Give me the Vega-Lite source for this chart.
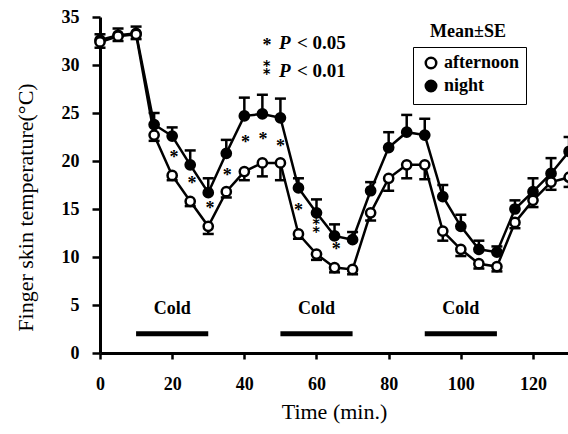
{
  "$schema": "https://vega.github.io/schema/vega-lite/v6.json",
  "width": 468,
  "height": 336,
  "autosize": {"type": "none"},
  "padding": {"left": 100, "top": 17, "right": 0, "bottom": 81},
  "background": "white",
  "config": {
    "view": {"stroke": null},
    "font": "Liberation Serif",
    "axis": {
      "grid": false,
      "domainColor": "black",
      "domainWidth": 3,
      "tickColor": "black",
      "tickWidth": 2.5,
      "labelFont": "Liberation Serif",
      "labelFontWeight": "bold",
      "labelFontSize": 18,
      "labelColor": "black",
      "titleFont": "Liberation Serif",
      "titleFontWeight": "normal",
      "titleFontSize": 22,
      "titleColor": "black"
    },
    "legend": {
      "labelFont": "Liberation Serif",
      "labelFontWeight": "bold",
      "labelFontSize": 18,
      "labelColor": "black"
    }
  },
  "datasets": {
    "series": [
      {"t": 0, "g": "night", "v": 32.6, "e": 33.2},
      {"t": 5, "g": "night", "v": 33.1, "e": 33.8},
      {"t": 10, "g": "night", "v": 33.3, "e": 34.0},
      {"t": 15, "g": "night", "v": 23.8, "e": 25.0},
      {"t": 20, "g": "night", "v": 22.6, "e": 23.5},
      {"t": 25, "g": "night", "v": 19.6, "e": 21.1},
      {"t": 30, "g": "night", "v": 16.7, "e": 18.2},
      {"t": 35, "g": "night", "v": 20.8, "e": 22.2},
      {"t": 40, "g": "night", "v": 24.7, "e": 26.6},
      {"t": 45, "g": "night", "v": 24.9, "e": 26.9},
      {"t": 50, "g": "night", "v": 24.5, "e": 26.5},
      {"t": 55, "g": "night", "v": 17.2, "e": 18.2},
      {"t": 60, "g": "night", "v": 14.6, "e": 16.0},
      {"t": 65, "g": "night", "v": 12.2, "e": 13.4},
      {"t": 70, "g": "night", "v": 11.8, "e": 12.6},
      {"t": 75, "g": "night", "v": 16.9, "e": 17.8},
      {"t": 80, "g": "night", "v": 21.4, "e": 23.0},
      {"t": 85, "g": "night", "v": 23.0, "e": 24.8},
      {"t": 90, "g": "night", "v": 22.7, "e": 24.4},
      {"t": 95, "g": "night", "v": 16.3, "e": 17.5},
      {"t": 100, "g": "night", "v": 13.2, "e": 14.4},
      {"t": 105, "g": "night", "v": 10.8, "e": 11.7},
      {"t": 110, "g": "night", "v": 10.5, "e": 11.1},
      {"t": 115, "g": "night", "v": 15.0, "e": 15.9},
      {"t": 120, "g": "night", "v": 16.8, "e": 18.2},
      {"t": 125, "g": "night", "v": 18.7, "e": 20.3},
      {"t": 130, "g": "night", "v": 21.0, "e": 22.5},
      {"t": 0, "g": "afternoon", "v": 32.4, "e": 31.8},
      {"t": 5, "g": "afternoon", "v": 33.0, "e": 32.5},
      {"t": 10, "g": "afternoon", "v": 33.2, "e": 32.7},
      {"t": 15, "g": "afternoon", "v": 22.7, "e": 22.1},
      {"t": 20, "g": "afternoon", "v": 18.5, "e": 18.0},
      {"t": 25, "g": "afternoon", "v": 15.8, "e": 15.3},
      {"t": 30, "g": "afternoon", "v": 13.2, "e": 12.4},
      {"t": 35, "g": "afternoon", "v": 16.8, "e": 16.2},
      {"t": 40, "g": "afternoon", "v": 18.9, "e": 18.0},
      {"t": 45, "g": "afternoon", "v": 19.8, "e": 18.4},
      {"t": 50, "g": "afternoon", "v": 19.8, "e": 18.0},
      {"t": 55, "g": "afternoon", "v": 12.4, "e": 11.9},
      {"t": 60, "g": "afternoon", "v": 10.3, "e": 9.7},
      {"t": 65, "g": "afternoon", "v": 8.9, "e": 8.4},
      {"t": 70, "g": "afternoon", "v": 8.7, "e": 8.2},
      {"t": 75, "g": "afternoon", "v": 14.6, "e": 13.8},
      {"t": 80, "g": "afternoon", "v": 18.2, "e": 16.9},
      {"t": 85, "g": "afternoon", "v": 19.6, "e": 18.2},
      {"t": 90, "g": "afternoon", "v": 19.6, "e": 18.1},
      {"t": 95, "g": "afternoon", "v": 12.7, "e": 11.7},
      {"t": 100, "g": "afternoon", "v": 10.8, "e": 10.1},
      {"t": 105, "g": "afternoon", "v": 9.3, "e": 8.8},
      {"t": 110, "g": "afternoon", "v": 9.0, "e": 8.5},
      {"t": 115, "g": "afternoon", "v": 13.6, "e": 13.0},
      {"t": 120, "g": "afternoon", "v": 15.9, "e": 15.2},
      {"t": 125, "g": "afternoon", "v": 17.8, "e": 17.0},
      {"t": 130, "g": "afternoon", "v": 18.3, "e": 17.3}
    ],
    "cold": [
      {"start": 10, "end": 30, "mid": 20, "bar": 2.0, "lab": 4.6, "label": "Cold"},
      {"start": 50, "end": 70, "mid": 60, "bar": 2.0, "lab": 4.6, "label": "Cold"},
      {"start": 90, "end": 110, "mid": 100, "bar": 2.0, "lab": 4.6, "label": "Cold"}
    ],
    "stars": [
      {"t": 20.5, "v": 20.7},
      {"t": 25.5, "v": 18.0},
      {"t": 30.5, "v": 15.4},
      {"t": 35.3, "v": 18.9},
      {"t": 40.3, "v": 22.3},
      {"t": 45.2, "v": 22.6},
      {"t": 50.0, "v": 21.9},
      {"t": 55.0, "v": 15.2},
      {"t": 65.5, "v": 11.1},
      {"t": 46.3, "v": 32.4}
    ],
    "dstars": [
      {"t": 60.0, "v": 13.0},
      {"t": 46.3, "v": 29.5}
    ],
    "pnotes": [
      {"t": 49.6, "v": 32.3, "p": "P", "rest": "< 0.05"},
      {"t": 49.6, "v": 29.4, "p": "P", "rest": "< 0.01"}
    ],
    "title2": [
      {"t": 102, "v": 33.4, "label": "Mean±SE"}
    ]
  },
  "layer": [
    {
      "data": {"name": "cold"},
      "mark": {"type": "rule", "strokeWidth": 5, "color": "black"},
      "encoding": {
        "x": {"field": "start", "type": "quantitative", "scale": {"domain": [0, 129.7], "nice": false}},
        "x2": {"field": "end"},
        "y": {"field": "bar", "type": "quantitative", "scale": {"domain": [0, 35], "nice": false}}
      }
    },
    {
      "data": {"name": "cold"},
      "mark": {"type": "text", "fontSize": 18, "fontWeight": "bold", "font": "Liberation Serif", "color": "black", "baseline": "middle"},
      "encoding": {
        "x": {"field": "mid", "type": "quantitative"},
        "y": {"field": "lab", "type": "quantitative"},
        "text": {"field": "label"}
      }
    },
    {
      "data": {"name": "series"},
      "mark": {"type": "line", "color": "black", "strokeWidth": 2.5},
      "encoding": {
        "x": {
          "field": "t", "type": "quantitative",
          "scale": {"domain": [0, 129.7], "nice": false},
          "axis": {
            "title": "Time (min.)",
            "values": [0, 10, 20, 30, 40, 50, 60, 70, 80, 90, 100, 110, 120],
            "labelExpr": "datum.value % 20 == 0 ? datum.label : ''",
            "tickSize": 6,
            "labelPadding": 16,
            "titlePadding": 8,
            "labelFlush": false
          }
        },
        "y": {
          "field": "v", "type": "quantitative",
          "scale": {"domain": [0, 35], "nice": false},
          "axis": {
            "title": "Finger skin temperature(°C)",
            "values": [0, 5, 10, 15, 20, 25, 30, 35],
            "tickSize": 8,
            "labelPadding": 13,
            "titlePadding": 24,
            "titleY": 190,
            "labelFlush": false
          }
        },
        "detail": {"field": "g"}
      }
    },
    {
      "data": {"name": "series"},
      "mark": {"type": "rule", "color": "black", "strokeWidth": 2.5},
      "encoding": {
        "x": {"field": "t", "type": "quantitative"},
        "y": {"field": "v", "type": "quantitative"},
        "y2": {"field": "e"}
      }
    },
    {
      "data": {"name": "series"},
      "mark": {"type": "tick", "orient": "horizontal", "color": "black", "size": 11, "thickness": 2.5, "opacity": 1},
      "encoding": {
        "x": {"field": "t", "type": "quantitative"},
        "y": {"field": "e", "type": "quantitative"}
      }
    },
    {
      "data": {"name": "series"},
      "mark": {"type": "point", "filled": true, "shape": "circle", "stroke": "black", "strokeWidth": 2.5, "size": 85, "opacity": 1},
      "encoding": {
        "x": {"field": "t", "type": "quantitative"},
        "y": {"field": "v", "type": "quantitative"},
        "fill": {
          "field": "g", "type": "nominal",
          "scale": {"domain": ["afternoon", "night"], "range": ["white", "black"]},
          "legend": {
            "title": null,
            "orient": "none",
            "legendX": 313,
            "legendY": 30,
            "padding": 7,
            "strokeColor": "black",
            "symbolType": "circle",
            "symbolSize": 110,
            "symbolStrokeColor": "black",
            "symbolStrokeWidth": 2.5,
            "symbolOffset": 2,
            "labelOffset": 4,
            "rowPadding": 1,
            "encode": {"legend": {"update": {"strokeWidth": {"value": 2.5}}}}
          }
        }
      }
    },
    {
      "data": {"name": "stars"},
      "mark": {"type": "text", "fontSize": 18, "fontWeight": "bold", "font": "Liberation Serif", "color": "black", "baseline": "middle", "dy": 4},
      "encoding": {
        "x": {"field": "t", "type": "quantitative"},
        "y": {"field": "v", "type": "quantitative"},
        "text": {"value": "*"}
      }
    },
    {
      "data": {"name": "dstars"},
      "mark": {"type": "text", "fontSize": 18, "fontWeight": "bold", "font": "DejaVu Serif", "color": "black", "baseline": "middle"},
      "encoding": {
        "x": {"field": "t", "type": "quantitative"},
        "y": {"field": "v", "type": "quantitative"},
        "text": {"value": "⁑"}
      }
    },
    {
      "data": {"name": "pnotes"},
      "mark": {"type": "text", "fontSize": 19, "fontWeight": "bold", "fontStyle": "italic", "font": "Liberation Serif", "color": "black", "baseline": "middle", "align": "left"},
      "encoding": {
        "x": {"field": "t", "type": "quantitative"},
        "y": {"field": "v", "type": "quantitative"},
        "text": {"field": "p"}
      }
    },
    {
      "data": {"name": "pnotes"},
      "mark": {"type": "text", "fontSize": 19, "fontWeight": "bold", "font": "Liberation Serif", "color": "black", "baseline": "middle", "align": "left", "dx": 18},
      "encoding": {
        "x": {"field": "t", "type": "quantitative"},
        "y": {"field": "v", "type": "quantitative"},
        "text": {"field": "rest"}
      }
    },
    {
      "data": {"name": "title2"},
      "mark": {"type": "text", "fontSize": 18, "fontWeight": "bold", "font": "Liberation Serif", "color": "black", "baseline": "middle"},
      "encoding": {
        "x": {"field": "t", "type": "quantitative"},
        "y": {"field": "v", "type": "quantitative"},
        "text": {"field": "label"}
      }
    }
  ]
}
